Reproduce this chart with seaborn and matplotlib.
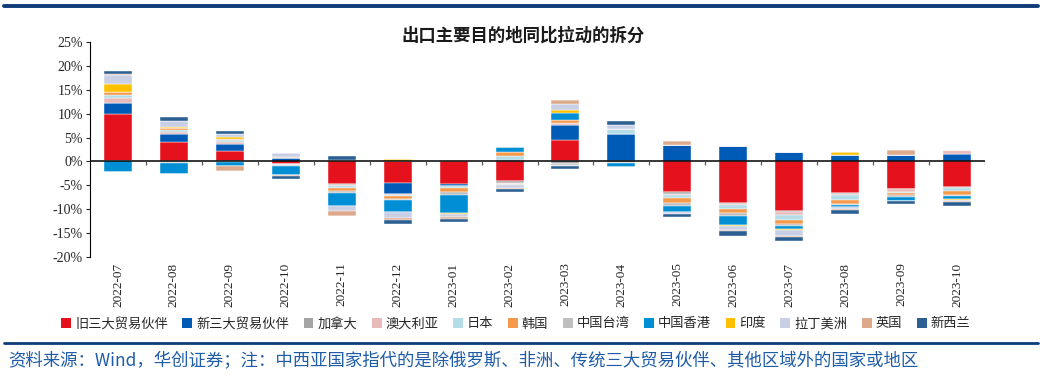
import matplotlib
matplotlib.use('Agg')
import matplotlib.pyplot as plt
from matplotlib.lines import Line2D
from matplotlib.patches import Patch
import numpy as np
import pandas as pd
import seaborn as sns

months = ['2022-07', '2022-08', '2022-09', '2022-10', '2022-11', '2022-12',
          '2023-01', '2023-02', '2023-03', '2023-04', '2023-05', '2023-06',
          '2023-07', '2023-08', '2023-09', '2023-10']

# contribution to export yoy growth, %
old3 = [9.9, 4.1, 2.2, -0.5, -4.75, -4.5, -4.8, -4.1, 4.4, 0.0, -6.5, -8.6, -10.4, -6.6, -5.7, -5.4]
new3 = [2.3, 1.6, 1.4, 0.8, 0.3, -2.3, -0.3, 0.2, 3.15, 5.8, 3.4, 3.3, 1.95, 1.25, 1.45, 1.6]
canada = [0.0, -0.1, -0.1, 0.0, -0.2, -0.1, -0.1, -0.4, -0.5, -0.3, -0.3, -0.3, -0.2, -0.25, -0.1, -0.1]
australia = [1.0, 0.55, 0.55, 0.0, -0.2, -0.1, 0.4, -0.3, 0.5, 0.0, -0.3, -0.2, -0.6, -0.25, -0.5, 0.7]
japan = [0.75, 0.3, 0.35, -0.2, -0.4, -0.3, -0.4, 0.85, 0.0, 0.9, -0.6, -0.85, -1.05, -1.05, -0.35, -0.75]
korea = [0.6, 0.35, 0.2, 0.2, -0.7, -0.5, -0.85, 1.0, 0.55, 0.0, -0.9, -0.9, -0.9, -0.7, -0.35, -0.7]
taiwan = [0.0, -0.2, -0.1, -0.2, -0.35, -0.3, -0.55, -0.2, -0.4, 0.0, -0.8, -0.6, -0.35, -0.2, -0.4, -0.35]
hongkong = [-2.3, -2.4, -0.8, -1.9, -2.8, -2.5, -3.85, 1.05, 1.55, -0.85, -1.25, -1.75, -0.55, -0.4, -0.85, -0.5]
india = [1.6, 0.4, 0.5, 0.0, 0.0, 0.55, -0.2, 0.0, 0.55, 0.15, 0.0, -0.35, -0.35, 0.7, 0.0, -0.2]
latam = [1.9, 1.1, 0.55, 0.8, -1.0, -1.2, -0.6, -0.5, 1.25, 0.85, -0.3, -0.9, -1.2, -0.6, 0.0, -0.2]
uk = [0.2, 0.1, -0.9, -0.2, -1.0, -0.5, -0.35, -0.3, 0.85, 0.0, 0.8, -0.2, -0.3, -0.2, 0.85, -0.2]
nz = [0.7, 0.75, 0.6, -0.6, 0.8, -0.75, -0.7, -0.7, -0.7, 0.75, -0.75, -0.85, -0.7, -0.65, -0.7, -0.9]

series = [
    ('旧三大贸易伙伴', old3, '#E5121D'),
    ('新三大贸易伙伴', new3, '#005BB7'),
    ('加拿大', canada, '#A5A5A5'),
    ('澳大利亚', australia, '#E8BABA'),
    ('日本', japan, '#B5DDE8'),
    ('韩国', korea, '#F5994B'),
    ('中国台湾', taiwan, '#BFBFBF'),
    ('中国香港', hongkong, '#008FD5'),
    ('印度', india, '#FFC000'),
    ('拉丁美洲', latam, '#C9D0E6'),
    ('英国', uk, '#DDA98B'),
    ('新西兰', nz, '#2C5F92'),
]

sns.set_style('white')
plt.rcParams['font.family'] = ['Noto Sans CJK SC', 'DejaVu Sans']

fig = plt.figure(figsize=(10.42, 3.77), dpi=100)
ax = fig.add_axes([0.0864, 0.3183, 0.8589, 0.5703])

pos_bottom = np.zeros(len(months))
neg_bottom = np.zeros(len(months))
for name, vals, col in series:
    v = np.array(vals)
    pos = np.where(v > 0, v, 0.0)
    neg = np.where(v < 0, v, 0.0)
    df = pd.DataFrame({'month': months, 'pos': pos, 'neg': neg})
    sns.barplot(data=df, x='month', y='pos', bottom=pos_bottom, color=col, saturation=1,
                width=0.5, errorbar=None, edgecolor='white', linewidth=0.3, ax=ax)
    sns.barplot(data=df, x='month', y='neg', bottom=neg_bottom, color=col, saturation=1,
                width=0.5, errorbar=None, edgecolor='white', linewidth=0.3, ax=ax)
    pos_bottom += pos
    neg_bottom += neg

ax.set_xlim(-0.5, len(months) - 0.5)
ax.set_ylim(-20, 25)
ax.set_yticks(np.arange(-20, 26, 5))
ax.set_yticklabels([f'{t}%' for t in range(-20, 26, 5)], family='Liberation Serif', fontsize=10)
ax.set_xticks(range(len(months)))
ax.set_xticklabels(months, rotation=90, family='Liberation Serif', fontsize=9.5)
ax.tick_params(axis='x', length=0, pad=4)
ax.tick_params(axis='y', length=3, width=0.8, direction='out', pad=2, left=True)
ax.set_xlabel('')
ax.set_ylabel('')
for s in ['top', 'right', 'bottom']:
    ax.spines[s].set_visible(False)
ax.spines['left'].set_color('black')
ax.spines['left'].set_linewidth(0.8)

# zero line with category separators
ax.axhline(0, color='black', lw=1.1, zorder=5)
ax.vlines(np.arange(len(months)) + 0.5, -0.8, 0, color='#555555', lw=0.9, zorder=5)

fig.text(0.502, 0.9045, '出口主要目的地同比拉动的拆分', ha='center', va='center',
         fontsize=12.5, fontweight='bold', color='#1a1a1a')

handles = [Patch(facecolor=c, edgecolor='none') for _, _, c in series]
labels = [n for n, _, _ in series]
fig.legend(handles, labels, loc='center', bbox_to_anchor=(0.495, 0.1406), ncol=12,
           frameon=False, fontsize=9.5, handlelength=0.75, handleheight=0.75,
           handletextpad=0.3, columnspacing=1.1)

fig.add_artist(Line2D([0.004, 0.996], [0.984, 0.984], transform=fig.transFigure,
                      color='#0E3C78', lw=2.8))
fig.add_artist(Line2D([0.004, 0.996], [0.0902, 0.0902], transform=fig.transFigure,
                      color='#0E3C78', lw=2.0))
fig.text(0.0077, 0.0424,
         '资料来源：Wind，华创证券；注：中西亚国家指代的是除俄罗斯、非洲、传统三大贸易伙伴、其他区域外的国家或地区',
         ha='left', va='center', fontsize=12.5, color='#1F5CA8', style='italic')

fig.savefig('out.png', dpi=100)
